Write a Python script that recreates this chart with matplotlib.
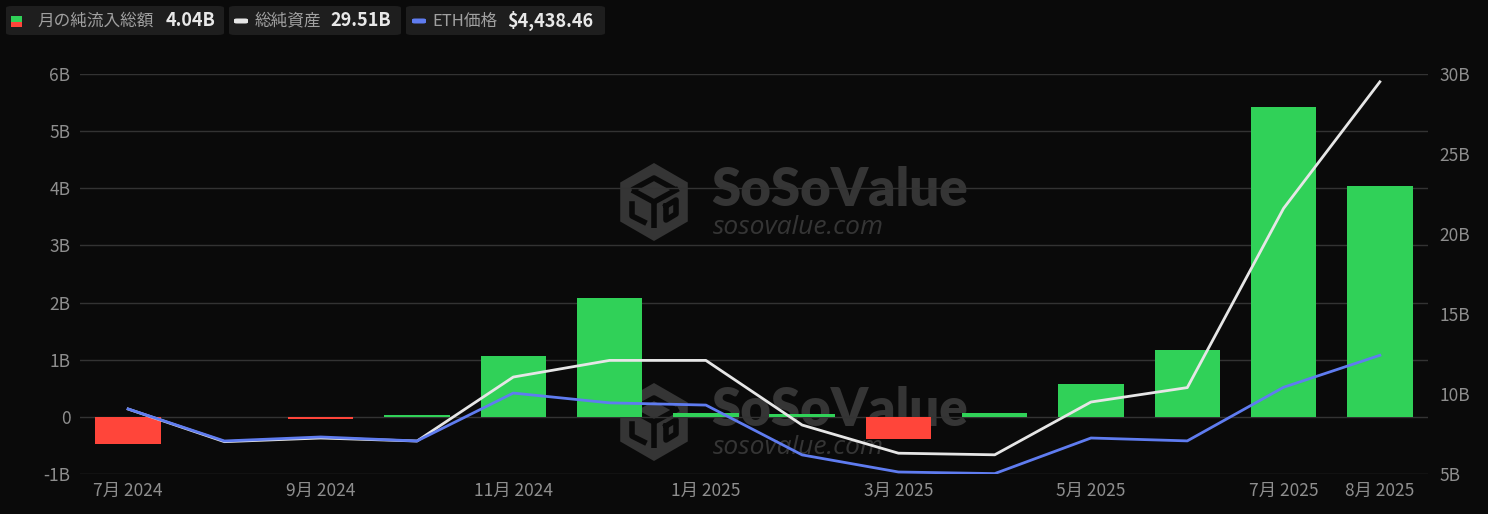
import matplotlib.pyplot as plt
from matplotlib.patches import FancyBboxPatch, RegularPolygon, Rectangle

plt.rcParams['font.family'] = ['Noto Sans CJK JP', 'DejaVu Sans']

# data
months = ['7月 2024', '8月 2024', '9月 2024', '10月 2024', '11月 2024', '12月 2024',
          '1月 2025', '2月 2025', '3月 2025', '4月 2025', '5月 2025', '6月 2025',
          '7月 2025', '8月 2025']
net_inflow = [-0.47, 0.005, -0.04, 0.04, 1.07, 2.08, 0.07, 0.05, -0.39, 0.06,
              0.58, 1.17, 5.43, 4.04]          # B USD
total_assets = [9.06, 7.02, 7.25, 7.06, 11.06, 12.1, 12.1, 8.06, 6.3, 6.2,
                9.5, 10.4, 21.6, 29.51]        # B USD
eth_price = [3232, 2513, 2603, 2513, 3590, 3370, 3320, 2200, 1816, 1780,
             2580, 2515, 3720, 4438.46]
shown_ticks = [0, 2, 4, 6, 8, 10, 12, 13]

bg = '#0a0a0a'
green = '#30d158'
red = '#ff453a'
txt = '#8e8e8e'
wmc = '#353535'

fig = plt.figure(figsize=(14.88, 5.14), dpi=100, facecolor=bg)

# watermark layer in pixel coordinates, behind the chart
wm = fig.add_axes([0, 0, 1, 1], zorder=-1)
wm.set_xlim(0, 1488)
wm.set_ylim(514, 0)
wm.axis('off')
for dy in (0, 220):
    cx, cy = 654, 202 + dy
    wm.add_patch(RegularPolygon((cx, cy), 6, radius=39, orientation=0,
                                facecolor=wmc, edgecolor='none'))
    # cube edges cut out of the hexagon
    wm.plot([cx - 22, cx, cx + 22], [cy - 12, cy - 24, cy - 12], color=bg, lw=4, solid_capstyle='butt')
    wm.plot([cx - 22, cx, cx], [cy - 12, cy, cy + 26], color=bg, lw=4, solid_capstyle='butt')
    wm.plot([cx, cx + 22], [cy, cy - 12], color=bg, lw=4)
    wm.plot([cx - 22, cx - 22, cx - 10], [cy + 2, cy + 14, cy + 20], color=bg, lw=4)
    wm.plot([cx + 12, cx + 22, cx + 22, cx + 12, cx + 12], [cy + 4, cy - 2, cy + 12, cy + 18, cy + 4],
            color=bg, lw=4)
    wm.text(711, 191 + dy, 'SoSoValue', family='Lato', weight='heavy',
            fontsize=38, color=wmc, va='center')
    wm.text(713, 228 + dy, 'sosovalue.com', family='Open Sans',
            style='italic', fontsize=19, color=wmc, va='center')

ax = fig.add_axes([80 / 1488, 1 - 474 / 514, 1348 / 1488, 400 / 514])
ax.set_facecolor('none')

x = list(range(len(months)))
colors = [green if v >= 0 else red for v in net_inflow]
ax.bar(x, net_inflow, width=0.68, color=colors, linewidth=0, zorder=3)
ax.set_xlim(-0.5, 13.5)
ax.set_ylim(-1, 6)
ax.set_yticks(range(-1, 7))
ax.set_yticklabels(['-1B', '0', '1B', '2B', '3B', '4B', '5B', '6B'])
ax.set_xticks(shown_ticks)
ax.set_xticklabels([months[i] for i in shown_ticks])
ax.grid(axis='y', color='#333333', linewidth=1, zorder=0)
ax.tick_params(length=0, colors=txt, labelsize=12.5)
ax.tick_params(axis='y', pad=7)
ax.tick_params(axis='x', pad=6)
for s in ax.spines.values():
    s.set_visible(False)

ax2 = ax.twinx()
ax2.set_ylim(5, 30)
ax2.set_yticks([5, 10, 15, 20, 25, 30])
ax2.set_yticklabels(['5B', '10B', '15B', '20B', '25B', '30B'])
ax2.tick_params(length=0, colors=txt, labelsize=12.5, pad=8)
for s in ax2.spines.values():
    s.set_visible(False)
ax2.plot(x, total_assets, color='#e6e6e6', linewidth=2, zorder=4)

ax3 = ax.twinx()
ax3.set_ylim(1771, 10760)
ax3.axis('off')
ax3.plot(x, eth_price, color='#5f7cf0', linewidth=2, zorder=5)

# legend row
boxes = [(6, 224), (229, 401), (406, 605)]
for x0, x1 in boxes:
    fig.patches.append(FancyBboxPatch((x0 / 1488, 1 - 35 / 514), (x1 - x0) / 1488, 29 / 514,
                                      boxstyle='round,pad=0,rounding_size=0.004',
                                      transform=fig.transFigure, facecolor='#1e1e1e',
                                      edgecolor='none'))
ly = 1 - 21 / 514
fig.patches.append(Rectangle((11 / 1488, 1 - 21.5 / 514), 11 / 1488, 5.5 / 514,
                             transform=fig.transFigure, facecolor=green))
fig.patches.append(Rectangle((11 / 1488, 1 - 27 / 514), 11 / 1488, 5.5 / 514,
                             transform=fig.transFigure, facecolor=red))
for px, col in ((234, '#e6e6e6'), (412, '#5f7cf0')):
    fig.patches.append(FancyBboxPatch((px / 1488, 1 - 23.5 / 514), 14 / 1488, 5 / 514,
                                      boxstyle='round,pad=0,rounding_size=0.002',
                                      transform=fig.transFigure, facecolor=col,
                                      edgecolor='none'))
labels = [(37, '月の純流入総額', 166, '4.04B'),
          (255, '総純資産', 330, '29.51B'),
          (432, 'ETH価格', 507, '$4,438.46')]
for lx, name, vx, val in labels:
    fig.text(lx / 1488, ly, name, color='#a0a0a0', fontsize=12, va='center')
    fig.text(vx / 1488, ly, val, color='#e8e8e8', fontsize=13, weight='bold', va='center')

fig.savefig('out.png', dpi=100, facecolor=bg)
